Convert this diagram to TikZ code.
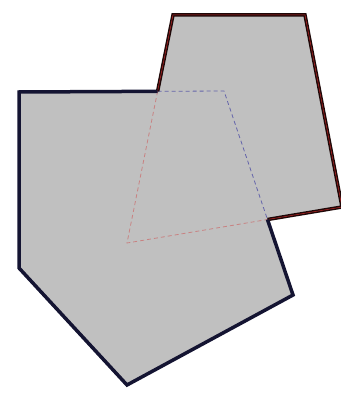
\documentclass[tikz,border=0pt]{standalone}
\begin{document}
\begin{tikzpicture}[x=1pt,y=-1pt,
  shapefill/.style={fill={rgb,255:red,192;green,192;blue,192}},
  pentline/.style={draw={rgb,255:red,20;green,20;blue,50},line width=3.5pt,line join=miter},
  quadline/.style={draw={rgb,255:red,30;green,8;blue,8},line width=3.5pt,line join=miter},
  quadthin/.style={draw={rgb,255:red,190;green,40;blue,40},line width=0.5pt},
  pentdash/.style={draw={rgb,255:red,100;green,100;blue,170},line width=0.8pt,dash pattern=on 4pt off 3pt},
  quaddash/.style={draw={rgb,255:red,200;green,130;blue,130},line width=0.8pt,dash pattern=on 4pt off 3pt}]
\useasboundingbox (0,0) rectangle (340,398);
\coordinate (P1) at (19,92);
\coordinate (P2) at (224,91);
\coordinate (P3) at (293,295);
\coordinate (P4) at (127,385);
\coordinate (P5) at (19,268);
\coordinate (Q1) at (173,15);
\coordinate (Q2) at (305,15);
\coordinate (Q3) at (342,207);
\coordinate (Q4) at (127,243);
\coordinate (A) at (intersection of P1--P2 and Q1--Q4);
\coordinate (B) at (intersection of P2--P3 and Q3--Q4);
\fill[shapefill] (Q1)--(Q2)--(Q3)--(Q4)--cycle;
\fill[shapefill] (P1)--(P2)--(P3)--(P4)--(P5)--cycle;
\draw[pentdash] (A)--(P2)--(B);
\draw[quaddash] (A)--(Q4)--(B);
\draw[quadline] (A)--(Q1)--(Q2)--(Q3)--(B);
\draw[quadthin] (A)--(Q1)--(Q2)--(Q3)--(B);
\draw[pentline] (B)--(P3)--(P4)--(P5)--(P1)--(A);
\end{tikzpicture}
\end{document}
